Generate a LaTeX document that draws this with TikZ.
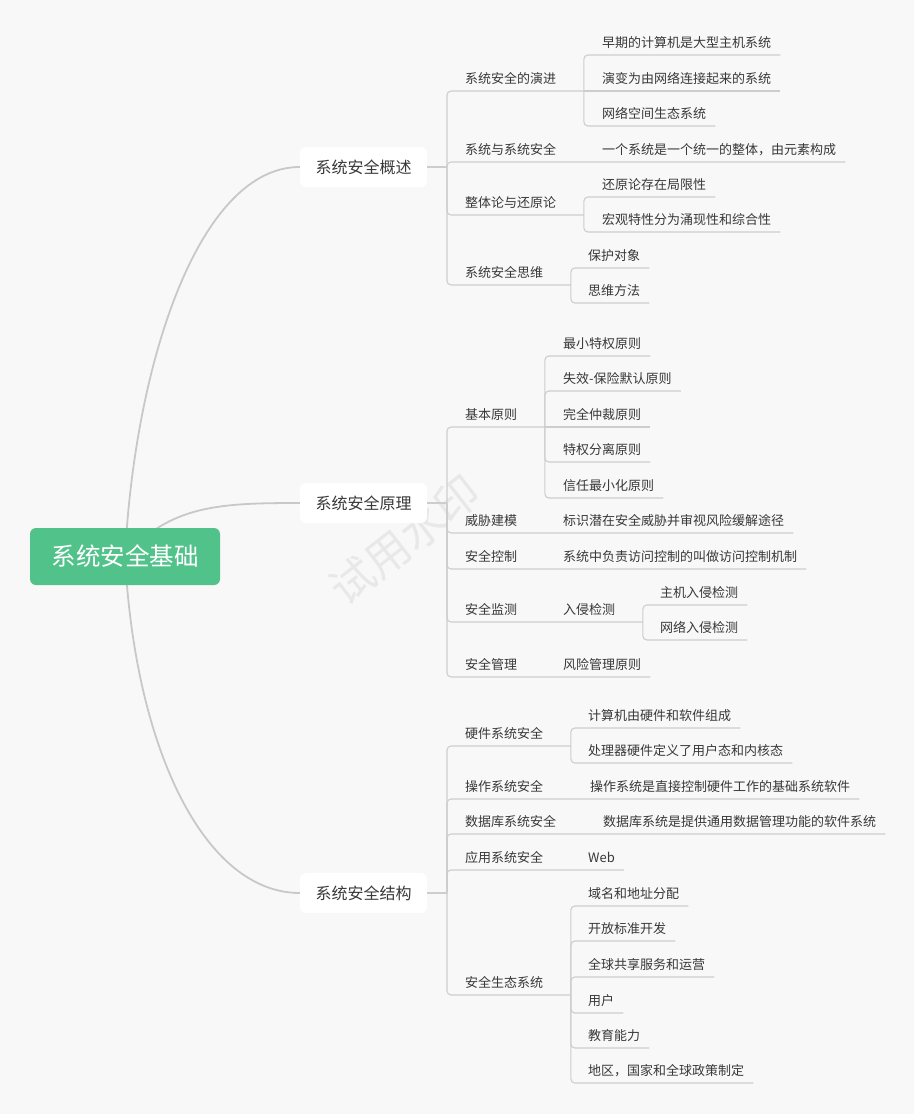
\documentclass[tikz,border=0pt]{standalone}
\usepackage{fontspec}
\setmainfont{Noto Sans CJK SC}
\definecolor{bgc}{HTML}{F8F8F8}
\definecolor{rootg}{HTML}{52C28B}
\definecolor{ln}{HTML}{CDCDCD}
\definecolor{cv}{HTML}{C8C8C8}
\definecolor{txt}{HTML}{383838}
\definecolor{wmc}{HTML}{E8E8E8}
\tikzset{
 t2/.style={font=\fontsize{13}{13}\selectfont, text=txt, inner sep=0pt, anchor=base west},
 l1/.style={fill=white, rounded corners=6pt, minimum width=127pt, minimum height=40pt, inner sep=0pt, font=\fontsize{16}{16}\selectfont, text=txt},
 rootbox/.style={fill=rootg, rounded corners=6pt, minimum width=190pt, minimum height=57pt, inner sep=0pt, font=\fontsize{24.5}{24.5}\selectfont, text=white},
 br/.style={draw=ln, line width=1.1pt},
 rc/.style={rounded corners=4pt},
 curvel/.style={draw=cv, line width=1.8pt},
 wmark/.style={text=wmc, font=\fontsize{44}{44}\selectfont, rotate=38, inner sep=0pt}
}
\newcommand\Leaf[5]{%
  \node[t2] (#1) at (#3,#4-7.5) {#5};
  \coordinate (#1-s) at (#2,#4);
  \coordinate (#1-t) at ([xshift=9pt]#1.east);
  \coordinate (#1-e) at (#1-t |- #1-s);
  \coordinate (#1-u) at ([xshift=27.5pt]#1.east);
  \coordinate (#1-k) at (#1-u |- #1-s);}
\begin{document}
\begin{tikzpicture}[x=1pt,y=-1pt]
\fill[bgc] (0,0) rectangle (914,1114);
\useasboundingbox (0,0) rectangle (914,1114);
\node[wmark] (wm) at (405,540) {试用水印};

% level 1 nodes
\node[l1] (A) at (363.5,167) {系统安全概述};
\node[l1] (B) at (363.5,503) {系统安全原理};
\node[l1] (C) at (363.5,893) {系统安全结构};
\coordinate (R0) at (125,556.5);

% main curves
\draw[curvel] (R0) .. controls (135,360) and (200,167) .. (A.west);
\draw[curvel] (R0) .. controls (170,505) and (220,503) .. (B.west);
\draw[curvel] (R0) .. controls (135,750) and (205,893) .. (C.west);
\node[rootbox] (R) at (R0) {系统安全基础};

% ---------- section A ----------
\coordinate (Aj) at (447,167);
\Leaf{A1}{447}{465}{91}{系统安全的演进}
\Leaf{A1a}{584}{602}{55}{早期的计算机是大型主机系统}
\Leaf{A1b}{584}{602}{91}{演变为由网络连接起来的系统}
\Leaf{A1c}{584}{602}{126}{网络空间生态系统}
\Leaf{A2}{447}{465}{162}{系统与系统安全}
\Leaf{A2a}{584}{602}{162}{一个系统是一个统一的整体，由元素构成}
\Leaf{A3}{447}{465}{215}{整体论与还原论}
\Leaf{A3a}{584}{602}{197}{还原论存在局限性}
\Leaf{A3b}{584}{602}{232}{宏观特性分为涌现性和综合性}
\Leaf{A4}{447}{465}{285}{系统安全思维}
\Leaf{A4a}{570}{588}{268}{保护对象}
\Leaf{A4b}{570}{588}{303}{思维方法}
\draw[br] (A) -- (Aj);
\draw[br,rc] (Aj) |- (A1-k);
\draw[br,rc] (A1-k) |- (A1a-e);
\draw[br] (A1-k) -- (A1b-e);
\draw[br,rc] (A1-k) |- (A1c-e);
\draw[br,rc] (Aj) |- (A2a-e);
\draw[br,rc] (Aj) |- (A3-k);
\draw[br,rc] (A3-k) |- (A3a-e);
\draw[br,rc] (A3-k) |- (A3b-e);
\draw[br,rc] (Aj) |- (A4-k);
\draw[br,rc] (A4-k) |- (A4a-e);
\draw[br,rc] (A4-k) |- (A4b-e);

% ---------- section B ----------
\coordinate (Bj) at (447,503);
\Leaf{B1}{447}{465}{427}{基本原则}
\Leaf{B1a}{545}{563}{356}{最小特权原则}
\Leaf{B1b}{545}{563}{391}{失效-保险默认原则}
\Leaf{B1c}{545}{563}{427}{完全仲裁原则}
\Leaf{B1d}{545}{563}{462}{特权分离原则}
\Leaf{B1e}{545}{563}{498}{信任最小化原则}
\Leaf{B2}{447}{465}{533}{威胁建模}
\Leaf{B2a}{545}{563}{533}{标识潜在安全威胁并审视风险缓解途径}
\Leaf{B3}{447}{465}{569}{安全控制}
\Leaf{B3a}{545}{563}{569}{系统中负责访问控制的叫做访问控制机制}
\Leaf{B4}{447}{465}{622}{安全监测}
\Leaf{B4a}{545}{563}{622}{入侵检测}
\Leaf{B4a1}{642}{660}{605}{主机入侵检测}
\Leaf{B4a2}{642}{660}{640}{网络入侵检测}
\Leaf{B5}{447}{465}{677}{安全管理}
\Leaf{B5a}{545}{563}{677}{风险管理原则}
\draw[br] (B) -- (Bj);
\draw[br,rc] (Bj) |- (B1-k);
\draw[br,rc] (B1-k) |- (B1a-e);
\draw[br,rc] (B1-k) |- (B1b-e);
\draw[br] (B1-k) -- (B1c-e);
\draw[br,rc] (B1-k) |- (B1d-e);
\draw[br,rc] (B1-k) |- (B1e-e);
\draw[br,rc] (Bj) |- (B2a-e);
\draw[br,rc] (Bj) |- (B3a-e);
\draw[br,rc] (Bj) |- (B4a-k);
\draw[br,rc] (B4a-k) |- (B4a1-e);
\draw[br,rc] (B4a-k) |- (B4a2-e);
\draw[br,rc] (Bj) |- (B5a-e);

% ---------- section C ----------
\coordinate (Cj) at (447,893);
\Leaf{C1}{447}{465}{746}{硬件系统安全}
\Leaf{C1a}{570}{588}{728}{计算机由硬件和软件组成}
\Leaf{C1b}{570}{588}{763}{处理器硬件定义了用户态和内核态}
\Leaf{C2}{447}{465}{799}{操作系统安全}
\Leaf{C2a}{570}{590}{799}{操作系统是直接控制硬件工作的基础系统软件}
\Leaf{C3}{447}{465}{834}{数据库系统安全}
\Leaf{C3a}{584}{603}{834}{数据库系统是提供通用数据管理功能的软件系统}
\Leaf{C4}{447}{465}{870}{应用系统安全}
\Leaf{C4a}{570}{588}{870}{Web}
\Leaf{C5}{447}{465}{995}{安全生态系统}
\Leaf{C5a}{570}{588}{906}{域名和地址分配}
\Leaf{C5b}{570}{588}{941}{开放标准开发}
\Leaf{C5c}{570}{588}{977}{全球共享服务和运营}
\Leaf{C5d}{570}{588}{1013}{用户}
\Leaf{C5e}{570}{588}{1048}{教育能力}
\Leaf{C5f}{570}{588}{1083}{地区，国家和全球政策制定}
\draw[br] (C) -- (Cj);
\draw[br,rc] (Cj) |- (C1-k);
\draw[br,rc] (C1-k) |- (C1a-e);
\draw[br,rc] (C1-k) |- (C1b-e);
\draw[br,rc] (Cj) |- (C2a-e);
\draw[br,rc] (Cj) |- (C3a-e);
\draw[br,rc] (Cj) |- (C4a-e);
\draw[br,rc] (Cj) |- (C5-k);
\draw[br,rc] (C5-k) |- (C5a-e);
\draw[br,rc] (C5-k) |- (C5b-e);
\draw[br,rc] (C5-k) |- (C5c-e);
\draw[br,rc] (C5-k) |- (C5d-e);
\draw[br,rc] (C5-k) |- (C5e-e);
\draw[br,rc] (C5-k) |- (C5f-e);
\end{tikzpicture}
\end{document}
